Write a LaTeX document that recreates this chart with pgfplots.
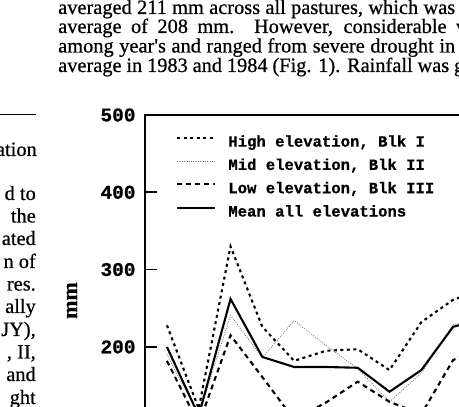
\documentclass[border=0pt]{standalone}
\usepackage{pgfplots}
\pgfplotsset{compat=1.18}
\usepackage{fontspec}
\setmainfont{Liberation Serif}
\newfontfamily\scanfont{Liberation Serif}[FakeBold=0.6]
\newfontfamily\monob{Liberation Mono}[FakeBold=0.8]
\begin{document}
\begin{tikzpicture}[x=1pt,y=1pt]
\useasboundingbox (0,0) rectangle (459,407);
\clip (0,0) rectangle (459,407);
% top paragraph (right column)
\begin{scope}[every node/.style={anchor=base west, inner sep=0pt, font=\scanfont\fontsize{20.4}{20}\selectfont}]
\node at (58,393) {\makebox[397pt][s]{averaged 211 mm across all pastures, which was}};
\node at (58,374) {\makebox[408pt][s]{average of 208 mm. However, considerable v}};
\node at (58,354.5) {\makebox[397pt][s]{among year's and ranged from severe drought in}};
\node at (58,335) {\makebox[406pt][s]{average in 1983 and 1984 (Fig. 1). Rainfall was g}};
\end{scope}
% left column fragments
\draw[line width=0.9pt] (0,293) -- (36,293);
\begin{scope}[every node/.style={anchor=base east, inner sep=0pt, font=\scanfont\fontsize{20.4}{20}\selectfont}]
\node at (37,251) {ation};
\node at (36,207) {d to};
\node at (36,184.5) {the};
\node at (36,162) {ated};
\node at (36,139) {n of};
\node at (36,116.5) {res.};
\node at (36,94) {ally};
\node at (36,71) {JY),};
\node at (36,48.5) {, II,};
\node at (36,26) {and};
\node at (36,3) {ght};
\end{scope}
\begin{axis}[
  at={(145pt,292pt)}, anchor=north west,
  scale only axis, width=403.5pt, height=386.5pt,
  xmin=-0.69, xmax=12, ymin=0, ymax=500,
  clip=false,
  axis line style={line width=1.6pt},
  xtick=\empty,
  ytick={0,100,...,500},
  ytick pos=left, tick align=inside,
  major tick length=12pt,
  every tick/.style={line width=1.6pt, black},
  /pgf/number format/assume math mode=true,
  yticklabel style={font=\monob\bfseries\fontsize{19.4}{20}\selectfont, anchor=east, xshift=-6pt},
  ylabel={\scanfont\bfseries\fontsize{22}{22}\selectfont mm},
  ylabel style={at={(axis description cs:-0.181,0.52)}, rotate=0, anchor=center},
  legend style={draw=none, fill=none, at={(axis description cs:0.077,0.948)}, anchor=north west,
    font=\monob\bfseries\fontsize{15.6}{16}\selectfont, row sep=10.5pt, column sep=12pt, inner sep=0pt,
    nodes={inner sep=0pt}},
  legend cell align=left,
  legend image code/.code={\draw[#1] (0pt,4pt) -- (38pt,4pt);},
]
\addplot[black, line width=2.1pt, dash pattern=on 3pt off 3.5pt] coordinates {
 (0,228) (1,120) (2,330) (3,226) (4,182) (5,195) (6,197) (7,170) (8,232) (9,261) (10,275)};
\addlegendentry{High elevation, Blk I}
\addplot[black!55, line width=0.8pt, dash pattern=on 0.9pt off 1.4pt] coordinates {
 (0,190) (1,112) (2,241) (3,186) (4,234) (5,202) (6,172) (7,129) (8,166) (9,229) (10,235)};
\addlegendentry{Mid elevation, Blk II}
\addplot[black, line width=2.1pt, dash pattern=on 5pt off 4pt] coordinates {
 (0,182) (1,100) (2,215) (3,161) (4,106) (5,128) (6,155) (7,129) (8,113) (9,183) (10,200)};
\addlegendentry{Low elevation, Blk III}
\addplot[black, line width=2.1pt] coordinates {
 (0,200) (1,111) (2,262) (3,187) (4,174) (5,174) (6,173) (7,142) (8,170) (9,226) (10,237)};
\addlegendentry{Mean all elevations}
\end{axis}
\end{tikzpicture}
\end{document}
